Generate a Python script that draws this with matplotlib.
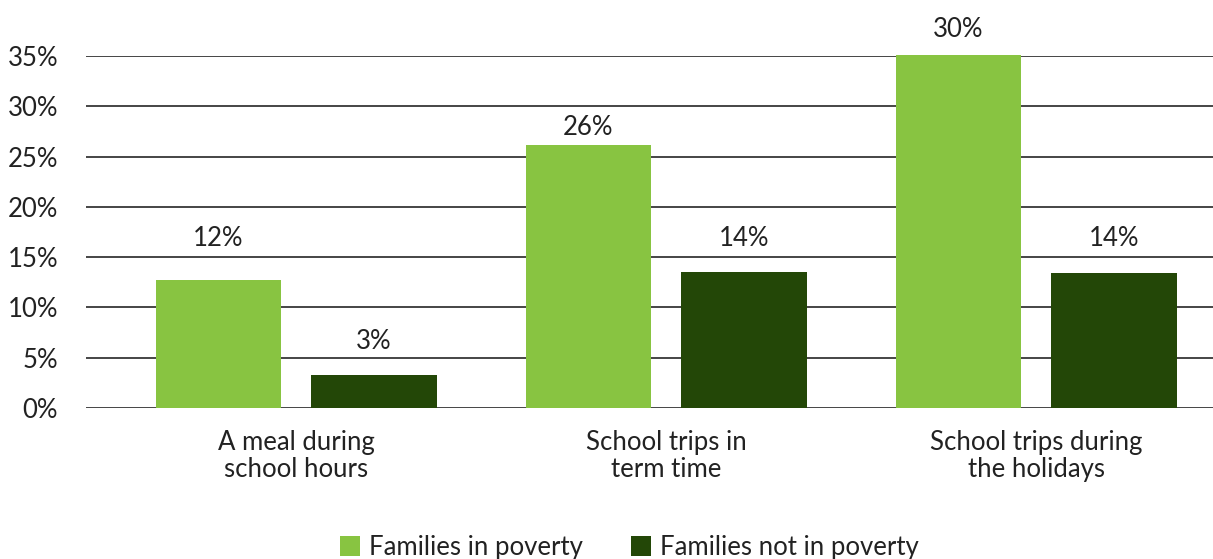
import matplotlib
matplotlib.use("Agg")
import matplotlib.pyplot as plt
import numpy as np
from matplotlib.patches import Patch

categories = ["A meal during\nschool hours", "School trips in\nterm time", "School trips during\nthe holidays"]
series_names = ["Families in poverty", "Families not in poverty"]
poverty = [12.7, 26.2, 35.1]
not_poverty = [3.3, 13.5, 13.4]
poverty_labels = ["12%", "26%", "30%"]
not_poverty_labels = ["3%", "14%", "14%"]
yticks = [0, 5, 10, 15, 20, 25, 30, 35]

colors = ["#88C441", "#234707"]
text_color = "#222222"
plt.rcParams['font.family'] = ['Lato', 'DejaVu Sans']
FS = 18.5

W, H = 1213, 559
fig = plt.figure(figsize=(W / 100, H / 100), dpi=100)
ax = fig.add_axes([86 / W, 151 / H, 1 - 86 / W, 352 / H])

x = np.arange(len(categories))
bw = 0.34
off = 0.21
b1 = ax.bar(x - off, poverty, bw, color=colors[0], zorder=3, clip_on=False)
b2 = ax.bar(x + off, not_poverty, bw, color=colors[1], zorder=3, clip_on=False)

# label offsets above bar tops (pixels), as in original layout
off1 = [42, 17, 25]
off2 = [33, 34, 35]
for bars, labels, offs in ((b1, poverty_labels, off1), (b2, not_poverty_labels, off2)):
    for r, lab, o in zip(bars, labels, offs):
        ax.annotate(lab, (r.get_x() + r.get_width() / 2, r.get_height()),
                    xytext=(0, o * 0.72), textcoords="offset points",
                    ha="center", va="center", fontsize=FS, color=text_color,
                    annotation_clip=False)

ax.set_xlim(-0.568, 2.478)
ax.set_ylim(0, 35)
ax.set_yticks(yticks)
ax.set_yticklabels([f"{t}%" for t in yticks], fontsize=FS, color=text_color)
ax.yaxis.grid(True, color="#262626", linewidth=1.2, zorder=0)
ax.set_axisbelow(True)
ax.tick_params(axis="y", length=0, pad=20)
ax.tick_params(axis="x", length=0, pad=15.5)
ax.set_xticks(x)
ax.set_xticklabels(categories, fontsize=FS, color=text_color, linespacing=1.1)
for s in ax.spines.values():
    s.set_visible(False)

handles = [Patch(facecolor=c, edgecolor="none") for c in colors]
fig.legend(handles, series_names, loc="lower center", bbox_to_anchor=(0.519, -0.043),
           ncol=2, frameon=False, fontsize=FS, handlelength=0.8, handleheight=0.8,
           handletextpad=0.35, columnspacing=1.85, labelcolor=text_color)

fig.savefig("out.png", dpi=100)
